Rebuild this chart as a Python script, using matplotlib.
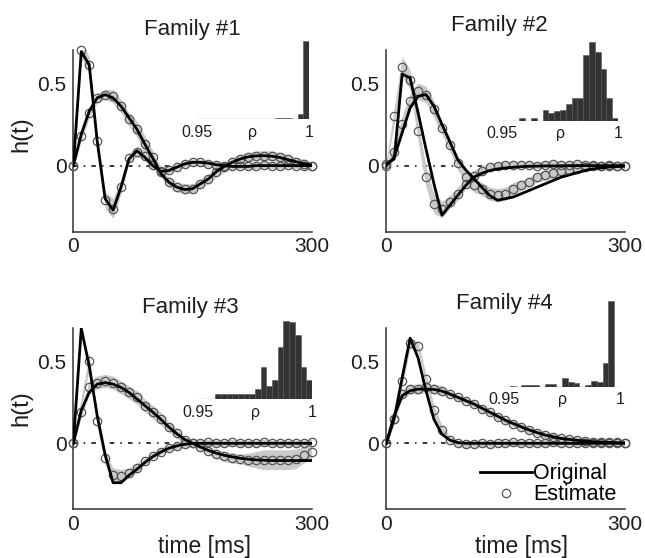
import matplotlib
matplotlib.use('Agg')
import numpy as np
import matplotlib.pyplot as plt
from matplotlib.lines import Line2D

plt.rcParams['font.family'] = ['Liberation Sans', 'DejaVu Sans']

# sample times (ms)
times = list(range(0, 301, 10))

# Family #1
orig1_fast = [0.00, 0.69, 0.61, 0.15, -0.20, -0.27, -0.13, 0.04, 0.09, 0.05, 0.00,
              -0.035, -0.03, -0.01, 0.01, 0.02, 0.02, 0.015, 0.005, 0.0, -0.005,
              -0.005, -0.005, 0.0, 0.0, 0.0, 0.0, 0.0, 0.0, 0.0, 0.0]
est1_fast = [0.00, 0.70, 0.61, 0.15, -0.21, -0.26, -0.13, 0.045, 0.085, 0.06, 0.005,
             -0.03, -0.025, -0.01, 0.01, 0.02, 0.02, 0.01, 0.005, 0.0, -0.005,
             0.0, -0.005, 0.0, 0.005, 0.0, 0.0, 0.005, 0.0, 0.0, 0.0]
band1_fast = [0.01, 0.05, 0.05, 0.04, 0.05, 0.06, 0.04, 0.03, 0.03, 0.03, 0.03,
              0.02, 0.02, 0.02, 0.02, 0.02, 0.02, 0.02, 0.02, 0.02, 0.02,
              0.02, 0.02, 0.02, 0.02, 0.02, 0.02, 0.02, 0.02, 0.02, 0.02]
orig1_slow = [0.00, 0.19, 0.33, 0.41, 0.43, 0.41, 0.36, 0.29, 0.22, 0.13, 0.045,
              -0.047, -0.10, -0.13, -0.145, -0.14, -0.11, -0.08, -0.036, -0.006, 0.02,
              0.04, 0.053, 0.059, 0.06, 0.057, 0.049, 0.036, 0.024, 0.012, 0.004]
est1_slow = [0.00, 0.18, 0.32, 0.41, 0.43, 0.42, 0.36, 0.28, 0.22, 0.13, 0.05,
             -0.04, -0.10, -0.13, -0.14, -0.14, -0.11, -0.08, -0.04, -0.01, 0.02,
             0.04, 0.05, 0.06, 0.06, 0.06, 0.05, 0.04, 0.02, 0.01, 0.0]
band1_slow = [0.01, 0.03, 0.03, 0.03, 0.03, 0.04, 0.04, 0.04, 0.05, 0.05, 0.04,
              0.03, 0.03, 0.03, 0.03, 0.03, 0.03, 0.03, 0.03, 0.03, 0.03,
              0.03, 0.03, 0.03, 0.03, 0.03, 0.03, 0.03, 0.03, 0.03, 0.02]

# Family #2
orig2_fast = [0.01, 0.04, 0.555, 0.53, 0.32, 0.10, -0.11, -0.30, -0.24, -0.18, -0.12,
              -0.07, -0.047, -0.03, -0.02, -0.014, -0.01, -0.006, -0.004, -0.003, -0.002,
              -0.002, -0.001, 0.0, 0.0, 0.0, 0.0, 0.0, 0.0, 0.0, 0.0]
est2_fast = [0.01, 0.30, 0.60, 0.52, 0.21, -0.07, -0.23, -0.265, -0.22, -0.17, -0.11,
             -0.06, -0.03, -0.01, 0.0, 0.005, 0.005, 0.005, 0.005, 0.0, 0.005,
             0.01, 0.005, 0.005, 0.01, 0.005, 0.005, 0.0, 0.005, 0.0, 0.0]
band2_fast = [0.02, 0.05, 0.06, 0.06, 0.06, 0.06, 0.06, 0.05, 0.04, 0.04, 0.03,
              0.03, 0.03, 0.02, 0.02, 0.02, 0.02, 0.02, 0.02, 0.02, 0.02,
              0.02, 0.02, 0.02, 0.02, 0.02, 0.02, 0.02, 0.02, 0.02, 0.02]
orig2_slow = [0.0, 0.05, 0.20, 0.35, 0.42, 0.43, 0.36, 0.25, 0.145, 0.035, -0.026,
              -0.077, -0.13, -0.18, -0.21, -0.20, -0.19, -0.17, -0.15, -0.13, -0.11,
              -0.09, -0.07, -0.057, -0.043, -0.03, -0.02, -0.014, -0.008, -0.006, -0.004]
est2_slow = [0.0, 0.08, 0.25, 0.39, 0.45, 0.43, 0.34, 0.23, 0.125, 0.014, -0.067,
             -0.12, -0.14, -0.17, -0.18, -0.17, -0.14, -0.12, -0.10, -0.07, -0.057,
             -0.045, -0.035, -0.025, -0.018, -0.01, -0.005, -0.003, 0.0, 0.0, 0.0]
band2_slow = [0.02, 0.04, 0.05, 0.05, 0.05, 0.05, 0.05, 0.04, 0.04, 0.04, 0.04,
              0.04, 0.04, 0.04, 0.04, 0.04, 0.04, 0.03, 0.03, 0.03, 0.03,
              0.03, 0.03, 0.03, 0.03, 0.02, 0.02, 0.02, 0.02, 0.02, 0.02]

# Family #3
orig3_fast = [0.0, 0.70, 0.47, 0.17, -0.07, -0.24, -0.24, -0.195, -0.158, -0.117, -0.081,
              -0.053, -0.03, -0.016, -0.006, 0.0, 0.0, 0.0, 0.0, 0.0, 0.0,
              0.0, 0.0, 0.0, 0.0, 0.0, 0.0, 0.0, 0.0, 0.0, 0.0]
est3_fast = [0.0, np.nan, 0.50, 0.136, -0.087, -0.19, -0.20, -0.18, -0.15, -0.11, -0.075,
             -0.05, -0.03, -0.015, -0.005, 0.0, 0.0, 0.005, 0.0, 0.0, 0.005,
             0.0, 0.0, 0.0, 0.005, 0.0, 0.0, 0.0, 0.0, 0.0, 0.005]
band3_fast = [0.01, 0.05, 0.05, 0.04, 0.04, 0.04, 0.04, 0.03, 0.03, 0.02, 0.02,
              0.02, 0.02, 0.02, 0.02, 0.02, 0.02, 0.02, 0.02, 0.02, 0.02,
              0.02, 0.02, 0.02, 0.02, 0.02, 0.02, 0.02, 0.02, 0.02, 0.02]
orig3_slow = [0.0, 0.20, 0.31, 0.36, 0.37, 0.36, 0.34, 0.31, 0.27, 0.23, 0.19,
              0.146, 0.10, 0.059, 0.024, 0.0, -0.022, -0.043, -0.06, -0.073, -0.083,
              -0.091, -0.097, -0.101, -0.103, -0.105, -0.105, -0.105, -0.105, -0.105, -0.105]
est3_slow = [0.0, 0.19, 0.34, 0.37, 0.38, 0.37, 0.34, 0.31, 0.28, 0.23, 0.19,
             0.15, 0.10, 0.06, 0.02, 0.0, -0.025, -0.045, -0.065, -0.08, -0.09,
             -0.095, -0.10, -0.10, -0.10, -0.10, -0.10, -0.10, -0.095, -0.07, -0.055]
band3_slow = [0.01, 0.03, 0.04, 0.04, 0.04, 0.04, 0.04, 0.04, 0.04, 0.04, 0.04,
              0.04, 0.03, 0.03, 0.02, 0.02, 0.02, 0.02, 0.03, 0.03, 0.03,
              0.03, 0.04, 0.05, 0.06, 0.06, 0.06, 0.06, 0.06, 0.05, 0.04]

# Family #4
orig4_fast = [0.0, 0.15, 0.40, 0.64, 0.52, 0.32, 0.146, 0.055, 0.02, 0.004, 0.0,
              0.0, 0.0, 0.0, 0.0, 0.0, 0.0, 0.0, 0.0, 0.0, 0.0,
              0.0, 0.0, 0.0, 0.0, 0.0, 0.0, 0.0, 0.0, 0.0, 0.0]
est4_fast = [0.0, 0.15, 0.38, 0.61, 0.59, 0.39, 0.20, 0.08, 0.02, 0.0, -0.005,
             -0.005, 0.0, -0.005, 0.0, 0.0, 0.005, 0.0, 0.0, 0.0, 0.0,
             0.005, 0.0, 0.0, 0.0, 0.0, 0.0, 0.0, 0.0, 0.0, 0.0]
band4_fast = [0.01, 0.03, 0.03, 0.03, 0.03, 0.03, 0.03, 0.03, 0.02, 0.02, 0.02,
              0.02, 0.02, 0.02, 0.02, 0.02, 0.02, 0.02, 0.02, 0.02, 0.02,
              0.02, 0.02, 0.02, 0.02, 0.02, 0.02, 0.02, 0.02, 0.02, 0.02]
orig4_slow = [0.0, 0.17, 0.29, 0.32, 0.33, 0.33, 0.328, 0.318, 0.30, 0.28, 0.26,
              0.24, 0.215, 0.19, 0.166, 0.14, 0.12, 0.10, 0.081, 0.065, 0.05,
              0.04, 0.03, 0.024, 0.018, 0.014, 0.01, 0.008, 0.006, 0.004, 0.002]
est4_slow = [0.0, 0.15, 0.30, 0.33, 0.33, 0.34, 0.33, 0.32, 0.30, 0.28, 0.26,
             0.24, 0.21, 0.19, 0.16, 0.14, 0.12, 0.10, 0.08, 0.065, 0.05,
             0.04, 0.03, 0.025, 0.02, 0.015, 0.01, 0.01, 0.005, 0.005, 0.0]
band4_slow = [0.01, 0.02, 0.03, 0.03, 0.03, 0.03, 0.03, 0.03, 0.02, 0.02, 0.02,
              0.02, 0.02, 0.02, 0.02, 0.02, 0.02, 0.02, 0.02, 0.02, 0.02,
              0.02, 0.02, 0.02, 0.02, 0.02, 0.02, 0.02, 0.02, 0.02, 0.02]

# inset histograms of rho (bin left edges, normalised heights)
rho_bins = [0.9500, 0.9525, 0.9550, 0.9575, 0.9600, 0.9625, 0.9650, 0.9675, 0.9700, 0.9725,
            0.9750, 0.9775, 0.9800, 0.9825, 0.9850, 0.9875, 0.9900, 0.9925, 0.9950, 0.9975]
hist1 = [0, 0, 0, 0, 0, 0, 0, 0, 0, 0, 0, 0, 0, 0, 0.01, 0.01, 0.01, 0, 0.07, 1.0]
hist2 = [0, 0, 0, 0.03, 0, 0.03, 0, 0.14, 0.10, 0.13, 0.14, 0.21, 0.29, 0.29, 0.84, 1.0, 0.87, 0.66, 0.29, 0.04]
hist3 = [0, 0, 0, 0.07, 0.07, 0.07, 0.07, 0.07, 0.07, 0.07, 0.13, 0.41, 0.17, 0.24, 0.67, 1.0, 0.98, 0.82, 0.41, 0.25]
hist4 = [0, 0.01, 0, 0.015, 0.015, 0.015, 0, 0.03, 0.03, 0, 0.10, 0.05, 0.045, 0, 0.02, 0.066, 0.05, 0.28, 1.0, 0]

titles = ['Family #1', 'Family #2', 'Family #3', 'Family #4']
panels = [
    (orig1_fast, est1_fast, band1_fast, orig1_slow, est1_slow, band1_slow, hist1),
    (orig2_fast, est2_fast, band2_fast, orig2_slow, est2_slow, band2_slow, hist2),
    (orig3_fast, est3_fast, band3_fast, orig3_slow, est3_slow, band3_slow, hist3),
    (orig4_fast, est4_fast, band4_fast, orig4_slow, est4_slow, band4_slow, hist4),
]

main_pos = [[0.1137, 0.5848, 0.3696, 0.3256], [0.5989, 0.5848, 0.3696, 0.3256],
            [0.1137, 0.0878, 0.3696, 0.3238], [0.5989, 0.0878, 0.3696, 0.3238]]
inset_pos = [[0.3054, 0.7867, 0.1736, 0.139], [0.7783, 0.7837, 0.180, 0.1405],
             [0.3070, 0.2844, 0.1767, 0.1409], [0.7814, 0.3070, 0.180, 0.1536]]
title_pad = [10.8, 13.9, 10.8, 14.2]
title_x = [0.5, 0.475, 0.49, 0.495]

circ_col = '#555555'
band_col = '#cacaca'
txt_col = '#1e1e1e'

fig = plt.figure(figsize=(6.45, 5.58), dpi=100)

for i, (of, ef, bf, osl, esl, bsl, hist) in enumerate(panels):
    ax = fig.add_axes(main_pos[i])
    ax.axhline(0, color='k', lw=1.1, dashes=(3, 4, 1, 4), zorder=1)
    for est, hw in [(ef, bf), (esl, bsl)]:
        e = np.array(est, dtype=float)
        h = np.array(hw)
        ok = ~np.isnan(e)
        ax.fill_between(np.array(times)[ok], (e - h)[ok], (e + h)[ok], color=band_col, lw=0, zorder=2)
        ax.plot(times, e, 'o', mfc='none', mec=circ_col, ms=6, mew=0.9, zorder=3, clip_on=False)
    for orig in [of, osl]:
        ax.plot(times, orig, color='k', lw=2, zorder=4)
    ax.set_xlim(0, 300)
    ax.set_ylim(-0.40, 0.70)
    ax.set_xticks([0, 300])
    ax.set_yticks([0, 0.5])
    ax.set_yticklabels(['0', '0.5'])
    ax.tick_params(length=0, labelsize=15, colors=txt_col)
    ax.tick_params(axis='y', pad=5)
    ax.tick_params(axis='x', pad=4)
    ax.spines['top'].set_visible(False)
    ax.spines['right'].set_visible(False)
    for s in ['left', 'bottom']:
        ax.spines[s].set_color('#333333')
        ax.spines[s].set_linewidth(1.1)
    ax.set_title(titles[i], fontsize=16, pad=title_pad[i], color=txt_col, x=title_x[i])
    if i % 2 == 0:
        ax.set_ylabel('h(t)', fontsize=17, color=txt_col)
        ax.yaxis.set_label_coords(-0.17, 0.538 if i == 0 else 0.559)
    if i >= 2:
        ax.set_xlabel('time [ms]', fontsize=16.5, color=txt_col)
        ax.xaxis.set_label_coords(0.55 if i == 2 else 0.569, -0.145)
    if i == 3:
        handles = [Line2D([], [], color='k', lw=2),
                   Line2D([], [], ls='none', marker='o', mfc='none', mec=circ_col, ms=6, mew=0.9)]
        ax.legend(handles, ['Original', 'Estimate'], loc='lower right', bbox_to_anchor=(0.965, 0.02),
                  frameon=False, fontsize=15.5, handlelength=2.4, handletextpad=0.05,
                  labelspacing=0.0, borderaxespad=0, borderpad=0)

    ins = fig.add_axes(inset_pos[i])
    ins.patch.set_alpha(0)
    ins.plot([0.95, 1.0], [0, 0], color='#aaaaaa', lw=1, zorder=0)
    ins.bar(rho_bins, hist, width=0.0025, align='edge', color='#333333',
            edgecolor='#555555', lw=0.4, zorder=2)
    ins.set_xlim(0.95, 1.0)
    ins.set_ylim(0, 1.0)
    ins.set_xticks([0.95, 0.975, 1.0])
    ins.set_xticklabels(['0.95', 'ρ', '1'])
    ins.tick_params(length=0, labelsize=11.5, pad=4, colors=txt_col)
    ins.set_yticks([])
    for s in ins.spines.values():
        s.set_visible(False)

fig.savefig('out.png', dpi=100)
